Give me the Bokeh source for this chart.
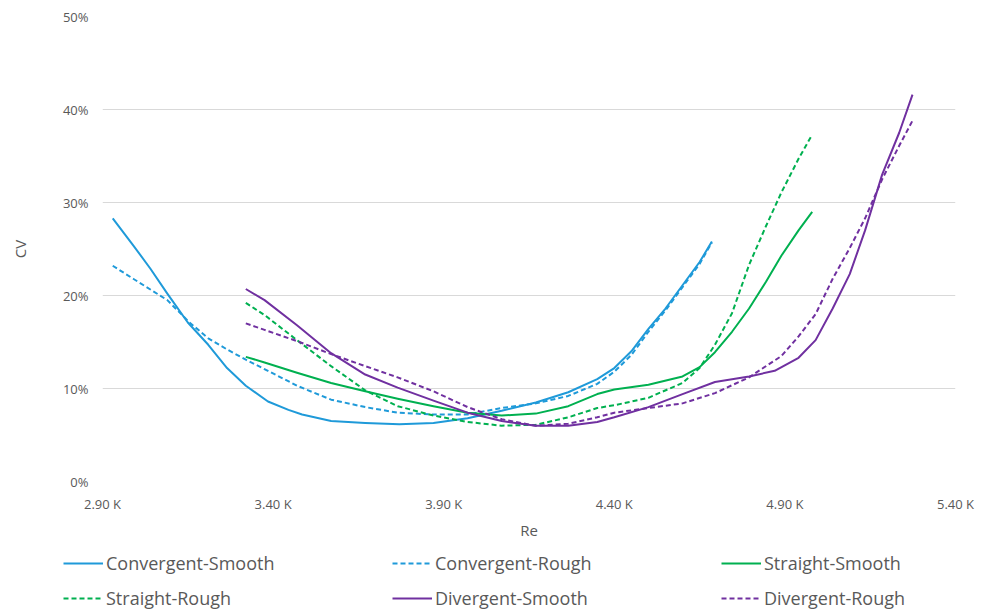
from bokeh.plotting import figure
from bokeh.layouts import column
from bokeh.models import Legend, LegendItem, FixedTicker
from bokeh.embed import file_html
from bokeh.resources import INLINE

# ---- data (Re, CV %) ----
cs_x = [2930, 2990, 3040, 3090, 3150, 3210, 3265, 3320, 3385, 3445, 3485, 3570, 3670, 3770,
        3870, 3970, 4070, 4170, 4265, 4350, 4400, 4450, 4500, 4550, 4600, 4650, 4686]
cs_y = [28.3, 25.4, 22.9, 20.2, 17.1, 14.7, 12.2, 10.3, 8.6, 7.7, 7.2, 6.5, 6.3, 6.15,
        6.3, 6.8, 7.6, 8.5, 9.6, 11.0, 12.2, 14.0, 16.4, 18.6, 21.1, 23.6, 25.8]

cr_x = [2930, 2990, 3090, 3155, 3210, 3265, 3320, 3385, 3470, 3570, 3670, 3765, 3870,
        3970, 4070, 4170, 4265, 4350, 4400, 4450, 4500, 4550, 4600, 4650, 4686]
cr_y = [23.2, 21.8, 19.5, 17.1, 15.4, 14.2, 13.1, 11.9, 10.3, 8.8, 8.0, 7.4, 7.2,
        7.2, 7.9, 8.4, 9.2, 10.5, 11.8, 13.6, 16.1, 18.4, 20.9, 23.4, 25.7]

ss_x = [3320, 3375, 3470, 3570, 3670, 3765, 3870, 3970, 4070, 4170, 4265, 4350, 4400,
        4500, 4600, 4650, 4695, 4745, 4795, 4845, 4890, 4940, 4980]
ss_y = [13.4, 12.8, 11.7, 10.6, 9.7, 8.9, 8.1, 7.4, 7.1, 7.3, 8.1, 9.4, 9.9,
        10.4, 11.3, 12.3, 13.9, 16.1, 18.6, 21.5, 24.3, 27.0, 29.0]

sr_x = [3320, 3375, 3470, 3570, 3670, 3765, 3870, 3970, 4070, 4170, 4265, 4350, 4400,
        4500, 4600, 4650, 4695, 4745, 4795, 4845, 4890, 4940, 4980]
sr_y = [19.2, 17.9, 15.2, 12.4, 9.8, 8.1, 7.1, 6.4, 6.0, 6.1, 6.9, 7.9, 8.2,
        9.0, 10.6, 12.2, 14.7, 18.1, 23.3, 27.5, 31.1, 34.7, 37.3]

ds_x = [3320, 3375, 3470, 3570, 3670, 3765, 3870, 3970, 4070, 4170, 4265, 4350, 4400,
        4500, 4600, 4695, 4795, 4870, 4940, 4990, 5040, 5090, 5135, 5185, 5235, 5274]
ds_y = [20.7, 19.5, 16.8, 13.8, 11.5, 10.1, 8.7, 7.4, 6.5, 6.0, 6.0, 6.4, 6.9,
        8.0, 9.4, 10.7, 11.3, 11.9, 13.3, 15.2, 18.6, 22.3, 27.0, 33.0, 37.5, 41.6]

dr_x = [3320, 3375, 3470, 3570, 3670, 3765, 3870, 3970, 4070, 4170, 4265, 4350, 4400,
        4500, 4600, 4695, 4795, 4890, 4940, 4990, 5040, 5090, 5135, 5185, 5235, 5274]
dr_y = [17.0, 16.3, 15.1, 13.7, 12.4, 11.2, 9.7, 8.0, 6.7, 6.0, 6.2, 6.9, 7.4,
        7.9, 8.4, 9.5, 11.2, 13.5, 15.6, 18.0, 21.8, 25.1, 28.3, 32.5, 36.1, 38.8]

series_names = ["Convergent-Smooth", "Convergent-Rough", "Straight-Smooth",
                "Straight-Rough", "Divergent-Smooth", "Divergent-Rough"]

x_ticks = [2900, 3400, 3900, 4400, 4900, 5400]
x_tick_labels = ["2.90 K", "3.40 K", "3.90 K", "4.40 K", "4.90 K", "5.40 K"]
y_ticks = [0, 10, 20, 30, 40, 50]
y_tick_labels = ["0%", "10%", "20%", "30%", "40%", "50%"]

# ---- styling ----
BLUE = "#1F9AD9"
GREEN = "#00B050"
PURPLE = "#7030A0"
TEXT = "#595959"
FONT = "Open Sans"
DASH = "5 3"

styles = [(BLUE, "solid"), (BLUE, DASH), (GREEN, "solid"),
          (GREEN, DASH), (PURPLE, "solid"), (PURPLE, DASH)]
data = [(cs_x, cs_y), (cr_x, cr_y), (ss_x, ss_y),
        (sr_x, sr_y), (ds_x, ds_y), (dr_x, dr_y)]

p = figure(width=984, height=542, output_backend="svg", toolbar_location=None,
           x_range=(2900, 5400), y_range=(0, 50),
           min_border_left=102, min_border_right=29, min_border_top=16,
           min_border_bottom=58)
p.outline_line_color = None
p.frame_align = False

for (xs, ys), (col, dash) in zip(data, styles):
    p.line(xs, ys, line_color=col, line_width=2, line_dash=dash,
           line_join="round", line_cap="butt")

p.xaxis.ticker = FixedTicker(ticks=x_ticks)
p.xaxis.major_label_overrides = {t: l for t, l in zip(x_ticks, x_tick_labels)}
p.yaxis.ticker = FixedTicker(ticks=y_ticks)
p.yaxis.major_label_overrides = {t: l for t, l in zip(y_ticks, y_tick_labels)}

for ax in (p.xaxis[0], p.yaxis[0]):
    ax.axis_line_color = None
    ax.major_tick_line_color = None
    ax.minor_tick_line_color = None
    ax.major_tick_out = 0
    ax.major_tick_in = 0
    ax.major_label_text_color = TEXT
    ax.major_label_text_font = FONT
    ax.major_label_text_font_size = "13px"
    ax.axis_label_text_color = TEXT
    ax.axis_label_text_font = FONT
    ax.axis_label_text_font_size = "15px"
    ax.axis_label_text_font_style = "normal"

p.xaxis.axis_label = "Re"
p.yaxis.axis_label = "CV"
p.xaxis.major_label_standoff = 13
p.xaxis.axis_label_standoff = 4
p.yaxis.major_label_standoff = 14
p.yaxis.axis_label_standoff = 30

p.xgrid.grid_line_color = None
p.ygrid.grid_line_color = "#D9D9D9"
p.ygrid.grid_line_width = 1

# ---- legend strip below the chart ----
lg = figure(width=984, height=70, output_backend="svg", toolbar_location=None,
            x_range=(0, 1), y_range=(0, 1),
            min_border_left=0, min_border_right=0, min_border_top=0,
            min_border_bottom=0)
lg.frame_align = False
lg.axis.visible = False
lg.grid.grid_line_color = None
lg.outline_line_color = None

items = []
for name, (xs, ys), (col, dash) in zip(series_names, data, styles):
    # same series, drawn outside this strip's view; only their legend swatches show
    r = lg.line(xs, ys, line_color=col, line_width=2, line_dash=dash)
    items.append(LegendItem(label=name, renderers=[r]))

legend = Legend(items=items, location=(63, 2), orientation="horizontal", ncols=3,
                glyph_width=40, glyph_height=16, label_height=16, label_width=275,
                label_standoff=3, spacing=11, padding=0, margin=0,
                border_line_alpha=0, background_fill_alpha=0,
                label_text_font=FONT, label_text_font_size="18px",
                label_text_color=TEXT)
lg.add_layout(legend)

layout = column(p, lg, spacing=0)
open("out.html", "w").write(file_html(layout, INLINE))
